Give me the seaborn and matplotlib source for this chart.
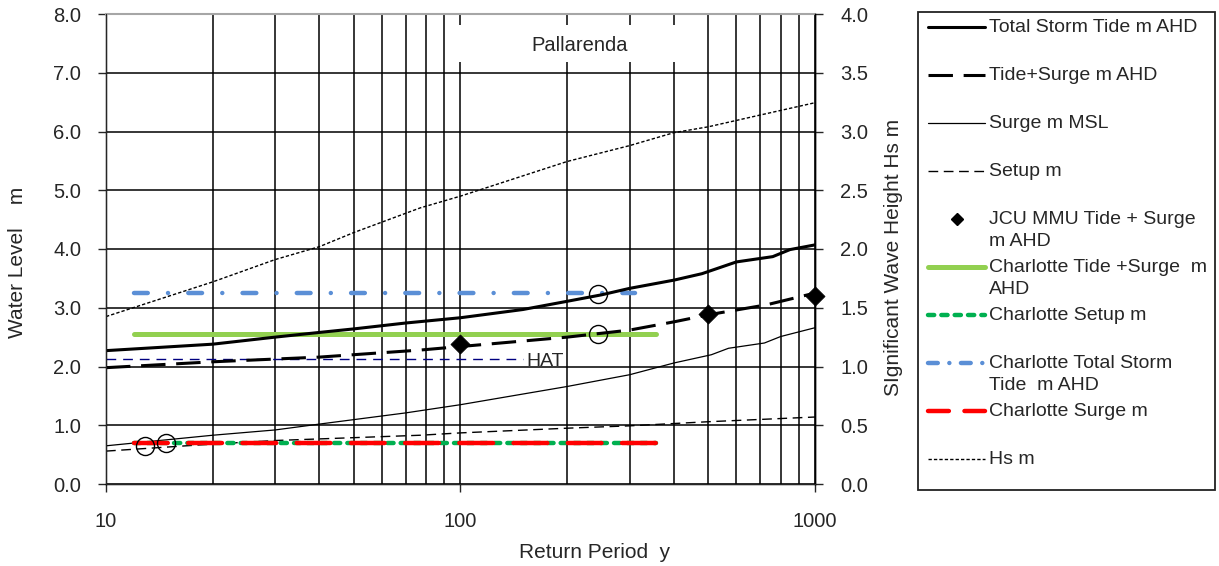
import matplotlib
matplotlib.use("Agg")
import matplotlib.pyplot as plt
import seaborn as sns
from matplotlib.patches import Rectangle
from matplotlib.ticker import FixedLocator, FormatStrFormatter, NullFormatter

# ----------------------------------------------------------
# DATA
# ----------------------------------------------------------
total_x = [10, 20, 30, 40, 50, 70, 100, 150, 200, 250, 300, 400, 480, 600, 760, 850, 1000]
total_y = [2.27, 2.38, 2.50, 2.58, 2.64, 2.74, 2.83, 2.97, 3.11, 3.22, 3.33, 3.47, 3.58, 3.78, 3.87, 3.99, 4.07]

tide_surge_x = [10, 20, 40, 77, 100, 200, 300, 400, 500, 730, 1000]
tide_surge_y = [1.98, 2.08, 2.16, 2.28, 2.34, 2.50, 2.62, 2.76, 2.88, 3.05, 3.25]

surge_x = [10, 20, 30, 40, 70, 100, 200, 300, 400, 510, 570, 720, 800, 1000]
surge_y = [0.65, 0.83, 0.92, 1.02, 1.21, 1.35, 1.66, 1.86, 2.06, 2.20, 2.31, 2.40, 2.51, 2.66]

setup_x = [10, 20, 30, 77, 100, 200, 300, 500, 1000]
setup_y = [0.56, 0.68, 0.74, 0.83, 0.87, 0.95, 0.99, 1.06, 1.14]

hs_x = [10, 20, 30, 40, 50, 77, 100, 200, 300, 400, 500, 700, 1000]
hs_y = [1.425, 1.72, 1.91, 2.02, 2.14, 2.35, 2.45, 2.745, 2.88, 2.99, 3.04, 3.14, 3.245]

jcu_x = [100, 500, 1000]
jcu_y = [2.39, 2.90, 3.20]

charlotte_x = [12, 355]
charlotte_total_x = [12, 311]
charlotte_tide_surge = [2.56, 2.56]
charlotte_setup = [0.70, 0.70]
charlotte_total = [3.25, 3.25]
charlotte_surge = [0.70, 0.70]

hat_x = [10, 150]
hat_y = [2.13, 2.13]
hat_label_x, hat_label_y = 153, 2.09

circle_x = [12.9, 14.8, 244, 244]
circle_y = [0.65, 0.70, 3.24, 2.56]

y_ticks = [0, 1, 2, 3, 4, 5, 6, 7, 8]
hs_ticks = [0, 0.5, 1.0, 1.5, 2.0, 2.5, 3.0, 3.5, 4.0]
x_major = [10, 100, 1000]
x_minor = [20, 30, 40, 50, 60, 70, 80, 90, 200, 300, 400, 500, 600, 700, 800, 900]

legend_labels = [
    "Total Storm Tide m AHD",
    "Tide+Surge m AHD",
    "Surge m MSL",
    "Setup m",
    "JCU MMU Tide + Surge\nm AHD",
    "Charlotte Tide +Surge  m\nAHD",
    "Charlotte Setup m",
    "Charlotte Total Storm\nTide  m AHD",
    "Charlotte Surge m",
    "Hs m",
]

# ----------------------------------------------------------
# STYLES
# ----------------------------------------------------------
st_total = dict(color="black", linewidth=2.2, linestyle="-")
st_ts = dict(color="black", linewidth=2.2, linestyle=(0, (8, 3.5)))
st_surge = dict(color="black", linewidth=0.9, linestyle="-")
st_setup = dict(color="black", linewidth=1.0, linestyle=(0, (7, 4)))
st_hs = dict(color="black", linewidth=1.0, linestyle=(0, (2.4, 1.5)))
st_hat = dict(color="#000080", linewidth=1.0, linestyle=(0, (7, 5)))
st_c_ts = dict(color="#92D050", linewidth=3.6, linestyle="-", solid_capstyle="round")
st_c_setup = dict(color="#00B050", linewidth=3.2, linestyle=(0, (1.4, 1.6)), dash_capstyle="round")
st_c_total = dict(color="#5B8FD6", linewidth=3.2, linestyle=(0, (3.1, 4.55, 0.01, 4.55)), dash_capstyle="round")
st_c_surge = dict(color="#FF0000", linewidth=3.2, linestyle=(0, (7.6, 4.6)), dash_capstyle="round")

sns.set_style("white")
plt.rcParams["font.family"] = ["Liberation Sans", "DejaVu Sans"]
plt.rcParams["font.size"] = 14

fig = plt.figure(figsize=(12.19, 5.66), dpi=100)
W, H = 1219, 566
ax = fig.add_axes([106 / W, 82 / H, 709 / W, 470 / H])
ax.set_xscale("log")
ax.set_xlim(10, 1000)
ax.set_ylim(0, 8)
ax.set_axisbelow(True)

# ----------------------------------------------------------
# SERIES
# ----------------------------------------------------------
sns.lineplot(x=hat_x, y=hat_y, ax=ax, **st_hat)
sns.lineplot(x=setup_x, y=setup_y, ax=ax, **st_setup)
sns.lineplot(x=surge_x, y=surge_y, ax=ax, **st_surge)
sns.lineplot(x=charlotte_x, y=charlotte_tide_surge, ax=ax, **st_c_ts)
sns.lineplot(x=charlotte_total_x, y=charlotte_total, ax=ax, **st_c_total)
sns.lineplot(x=charlotte_x, y=charlotte_setup, ax=ax, **st_c_setup)
sns.lineplot(x=charlotte_x, y=charlotte_surge, ax=ax, **st_c_surge)
sns.lineplot(x=tide_surge_x, y=tide_surge_y, ax=ax, **st_ts)
sns.lineplot(x=total_x, y=total_y, ax=ax, **st_total)
sns.scatterplot(x=jcu_x, y=jcu_y, ax=ax, marker="D", s=95, color="black",
                edgecolor="black", linewidth=0.5, zorder=4, clip_on=False)
sns.lineplot(x=circle_x, y=circle_y, ax=ax, estimator=None, sort=False,
             linestyle="none", marker="o", markersize=13, markerfacecolor="none",
             markeredgecolor="black", markeredgewidth=1.0, color="black", zorder=5)

ax.text(hat_label_x, hat_label_y, "HAT", ha="left", va="center", fontsize=14)

# title box
ax.add_patch(Rectangle((0.485, 0.898), 0.331, 0.079, transform=ax.transAxes,
                       facecolor="white", edgecolor="none", zorder=1))
ax.text(0.668, 0.932, "Pallarenda", transform=ax.transAxes, ha="center",
        va="center", fontsize=14.5, zorder=3)

# ----------------------------------------------------------
# AXES FORMAT
# ----------------------------------------------------------
ax.xaxis.set_major_locator(FixedLocator(x_major))
ax.xaxis.set_minor_locator(FixedLocator(x_minor))
ax.xaxis.set_minor_formatter(NullFormatter())
ax.set_xticklabels([str(v) for v in x_major])
ax.set_yticks(y_ticks)
ax.yaxis.set_major_formatter(FormatStrFormatter("%.1f"))
ax.tick_params(axis="x", which="major", direction="out", length=6, width=1,
               pad=14, labelsize=14.5, bottom=True)
ax.tick_params(axis="x", which="minor", length=0)
ax.tick_params(axis="y", direction="out", length=6, width=1, pad=12,
               labelsize=14.5, left=True)
ax.grid(True, which="both", axis="x", color="black", linewidth=1.1)
ax.grid(True, which="major", axis="y", color="black", linewidth=1.1)
for side in ["left", "bottom", "right"]:
    ax.spines[side].set_color("black")
    ax.spines[side].set_linewidth(1.0)
ax.spines["top"].set_color("#A6A6A6")
ax.spines["top"].set_linewidth(1.5)
ax.set_xlabel("")
ax.set_ylabel("")

ax2 = ax.twinx()
ax2.set_ylim(0, 4)
sns.lineplot(x=hs_x, y=hs_y, ax=ax2, **st_hs)
ax2.set_yticks(hs_ticks)
ax2.yaxis.set_major_formatter(FormatStrFormatter("%.1f"))
ax2.tick_params(axis="y", direction="out", length=6, width=1, pad=12,
                labelsize=14.5, right=True)
ax2.spines["right"].set_color("black")
ax2.spines["right"].set_linewidth(1.0)
ax2.spines["top"].set_visible(False)
ax2.grid(False)
ax2.set_ylabel("")

fig.text(18 / W, 1 - 262 / H, "Water Level    m", rotation=90, ha="center",
         va="center", fontsize=15)
fig.text(893 / W, 1 - 257 / H, "SIgnificant Wave Height Hs m", rotation=90,
         ha="center", va="center", fontsize=15)
fig.text(595 / W, 1 - 552 / H, "Return Period  y", ha="center", va="center",
         fontsize=15)

# ----------------------------------------------------------
# LEGEND (drawn in figure pixel space)
# ----------------------------------------------------------
lax = fig.add_axes([0, 0, 1, 1], zorder=10)
lax.set_xlim(0, W)
lax.set_ylim(H, 0)
lax.axis("off")
lax.add_patch(Rectangle((918, 12), 297, 478, fill=False, edgecolor="#222222",
                        linewidth=1.3))

legend_styles = [
    st_total, st_ts, st_surge, st_setup, None, st_c_ts, st_c_setup,
    dict(st_c_total, linestyle=(0, (2.2, 2.6, 0.01, 2.6))),
    dict(st_c_surge, linestyle=(0, (4.7, 3.5))),
    st_hs,
]
for i, (lab, sty) in enumerate(zip(legend_labels, legend_styles)):
    yc = 27 + i * 48.0
    if sty is None:
        lax.plot([957], [yc], marker="D", markersize=6.5, color="black",
                 linestyle="none")
    else:
        lax.plot([928, 985], [yc, yc], **sty)
    for j, line in enumerate(lab.split("\n")):
        lax.text(989, yc + j * 22, line, ha="left", va="center", fontsize=14)

fig.savefig("out.png", dpi=100)
